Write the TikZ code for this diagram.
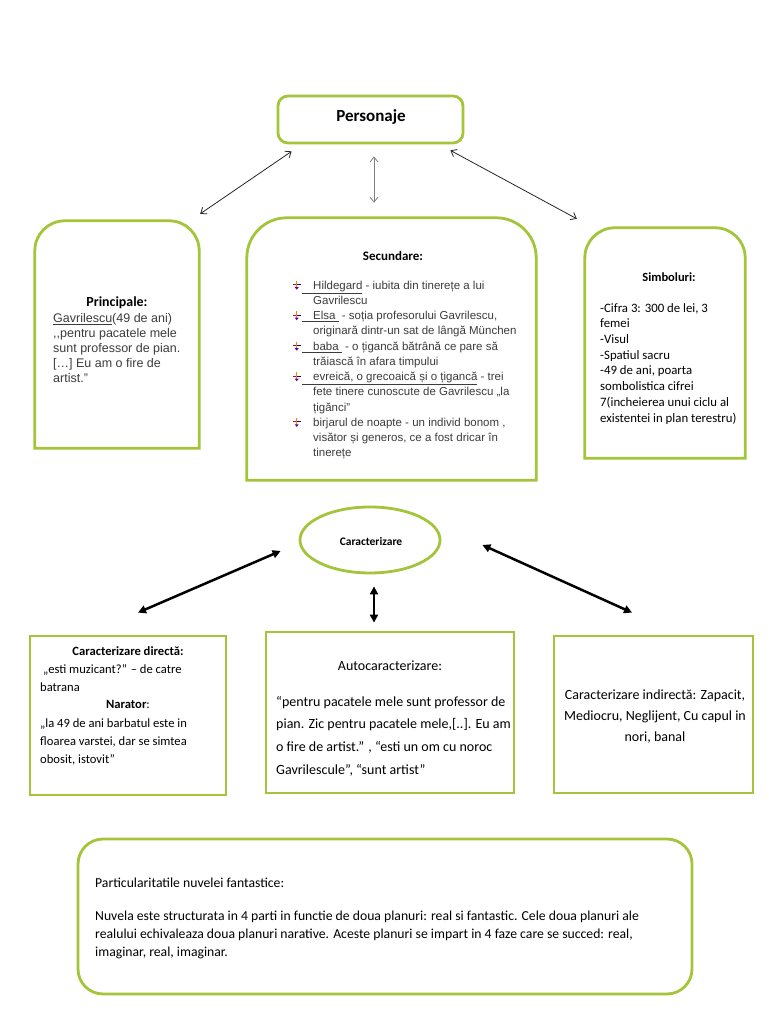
\documentclass[tikz,border=0pt]{standalone}
\usepackage{fontspec}
\setmainfont{Carlito}
\newfontfamily\ari{Liberation Sans}
\usetikzlibrary{shapes.geometric,arrows.meta}
\definecolor{gr}{RGB}{164,196,57}
\definecolor{tg}{RGB}{60,60,60}
\newcommand\fs[2]{\fontsize{#1}{#2}\selectfont}
\newcommand\tst{\rule{0pt}{1em}}
\newcommand\wb{\tikz[baseline=0pt,x=1pt,y=1pt,line width=1pt]{%
  \draw[red!85!black] (0,4.5)--(4,4.5);
  \draw[blue!80!black] (4,4.5)--(8,4.5);
  \draw[orange] (4,8.5)--(4,1.5);
  \fill[blue!60!red] (2,2)--(6,2)--(4,-0.5)--cycle;}}
\newcommand\bl{\makebox[10pt][l]{\wb}}
\newcommand\topbox[2]{\draw[box] (#1.south west) -- ([yshift=-#2]#1.north west)
  arc[start angle=180,end angle=90,radius=#2] -- ([xshift=-#2]#1.north east)
  arc[start angle=90,end angle=0,radius=#2] -- (#1.south east) -- cycle;}
\begin{document}
\begin{tikzpicture}[x=1pt,y=1pt,
  box/.style={draw=gr,line width=2.8pt},
  holder/.style={inner sep=0pt,draw=none},
  thin/.style={{Straight Barb[length=5pt,width=8pt]}-{Straight Barb[length=5pt,width=8pt]},line width=0.8pt,draw=black!85},
  thick/.style={{Triangle[length=8pt,width=8pt]}-{Triangle[length=8pt,width=8pt]},line width=2.5pt,draw=black},
  txt/.style={inner sep=0pt}]
\fill[white] (0,0) rectangle (768,1024);
\useasboundingbox (0,0) rectangle (768,1024);

% Personaje
\node[holder,box,rounded corners=10pt,minimum width=185pt,minimum height=47pt] (pers) at (370.5,904.5) {};
\node[txt,anchor=base,font=\bfseries\fs{17}{20}] (perst) at (371,902) {Personaje};

% Principale
\node[holder,minimum width=164pt,minimum height=227pt] (prin) at (117,689.5) {};
\topbox{prin}{30pt}
\node[txt,anchor=base,font=\bfseries\fs{13.9}{16}] (prinh) at (117,717) {Principale:};
\node[txt,anchor=north west,align=left,font=\ari\fs{12.5}{15},text=tg] (prinb) at (53,714.5)
 {\tst\underline{Gavrilescu}(49 de ani)\\,,pentru pacatele mele\\sunt professor de pian.\\{[}…{]} Eu am o fire de\\artist.”};

% Secundare
\node[holder,minimum width=289pt,minimum height=262pt] (sec) at (391.5,675) {};
\topbox{sec}{40pt}
\node[txt,anchor=base,font=\bfseries\fs{13}{15}] (sech) at (393,763) {Secundare:};
\node[txt,anchor=north west,align=left,font=\ari\fs{11.5}{15.25},text=tg] (secb) at (292,746.5)
 {\tst\bl\underline{\hspace{11pt}Hildegard} - iubita din tinerețe a lui\\
  \hspace*{21pt}Gavrilescu\\
  \bl\underline{\hspace{11pt}Elsa } - soția profesorului Gavrilescu,\\
  \hspace*{21pt}originară dintr-un sat de lângă München\\
  \bl\underline{\hspace{11pt}baba } - o țigancă bătrână ce pare să\\
  \hspace*{21pt}trăiască în afara timpului\\
  \bl\underline{\hspace{11pt}evreică, o grecoaică și o țigancă} - trei\\
  \hspace*{21pt}fete tinere cunoscute de Gavrilescu „la\\
  \hspace*{21pt}țigănci”\\
  \bl\hspace*{11pt}birjarul de noapte - un individ bonom ,\\
  \hspace*{21pt}visător și generos, ce a fost dricar în\\
  \hspace*{21pt}tinerețe};

% Simboluri
\node[holder,minimum width=160pt,minimum height=230pt] (sim) at (665,681) {};
\topbox{sim}{30pt}
\node[txt,anchor=base,font=\bfseries\fs{12.5}{15}] (simh) at (669,742.5) {Simboluri:};
\node[txt,anchor=north west,align=left,font=\fs{12.8}{15.7}] (simb) at (600,724.8)
 {\tst -Cifra 3: 300 de lei, 3\\femei\\-Visul\\-Spatiul sacru\\-49 de ani, poarta\\sombolistica cifrei\\7(incheierea unui ciclu al\\existentei in plan terestru)};

% Caracterizare
\node[ellipse,box,inner sep=0pt,minimum width=140pt,minimum height=66pt] (car) at (370,484) {};
\node[txt,anchor=base,font=\bfseries\fs{11.5}{14}] (cart) at (371,478) {Caracterizare};

% Directa
\node[holder,box,minimum width=196pt,minimum height=159pt] (dir) at (128,308.5) {};
\node[txt,anchor=base,font=\bfseries\fs{12.6}{15}] (dirh) at (128,368.5) {Caracterizare directă:};
\node[txt,anchor=north west,align=left,font=\fs{12.6}{18.1}] (dirb1) at (40,363.6)
 {\tst\ „esti muzicant?” – de catre\\batrana};
\node[txt,anchor=base,font=\fs{12.6}{15}] (nar) at (128,315) {\textbf{Narator}:};
\node[txt,anchor=north west,align=left,font=\fs{12.6}{18.1}] (dirb2) at (40,309.6)
 {\tst,,la 49 de ani barbatul este in\\floarea varstei, dar se simtea\\obosit, istovit”};

% Auto
\node[holder,box,minimum width=248pt,minimum height=161pt] (auto) at (390,311.5) {};
\node[txt,anchor=base,font=\fs{14}{16}] (autoh) at (390,353) {Autocaracterizare:};
\node[txt,anchor=north west,align=left,font=\fs{14}{22.7}] (autob) at (276,332)
 {\tst“pentru pacatele mele sunt professor de\\pian. Zic pentru pacatele mele,{[}..{]}. Eu am\\o fire de artist.” , “esti un om cu noroc\\Gavrilescule”, “sunt artist”};

% Indirecta
\node[holder,box,minimum width=199pt,minimum height=157pt] (ind) at (653.5,309.5) {};
\node[txt,anchor=north,align=center,font=\fs{14}{21.2}] (indt) at (655,339)
 {\tst Caracterizare indirectă: Zapacit,\\Mediocru, Neglijent, Cu capul in\\nori, banal};

% Particularitatile
\node[holder,box,rounded corners=25pt,minimum width=614pt,minimum height=155pt] (part) at (385,107.5) {};
\node[txt,anchor=base west,font=\fs{13.7}{15}] (parth) at (95,136) {Particularitatile nuvelei fantastice:};
\node[txt,anchor=north west,align=left,font=\fs{13.7}{18}] (partb) at (95,117.7)
 {\tst Nuvela este structurata in 4 parti in functie de doua planuri: real si fantastic. Cele doua planuri ale\\realului echivaleaza doua planuri narative. Aceste planuri se impart in 4 faze care se succed: real,\\imaginar, real, imaginar.};

% arrows top
\draw[thin] ([shift={(15,-7)}]pers.south west) -- ([shift={(1,7)}]prin.north east);
\draw[thin,draw=gray] ([shift={(3.5,-12)}]pers.south) -- ([shift={(-17.5,15)}]sec.north);
\draw[thin] ([shift={(-14,-6)}]pers.south east) -- ([shift={(-8,9)}]sim.north west);
% arrows bottom
\draw[thick] ([shift={(-18,-11)}]car.west) -- ([shift={(10,22)}]dir.north);
\draw[thick] ([shift={(4,-12)}]car.south) -- ([shift={(-16,8)}]auto.north);
\draw[thick] ([shift={(41,-5)}]car.east) -- ([shift={(-21.5,22)}]ind.north);
\end{tikzpicture}
\end{document}
